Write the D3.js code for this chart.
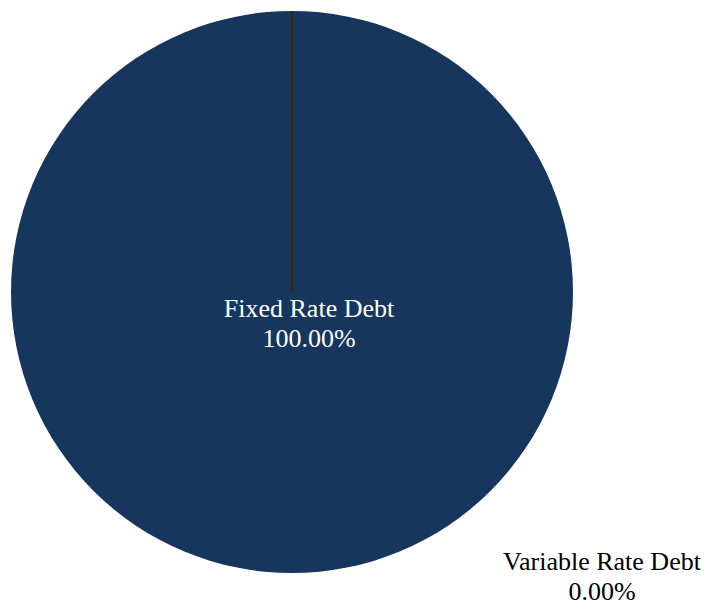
<!DOCTYPE html>
<html>
<head>
<meta charset="utf-8">
<script src="https://cdn.jsdelivr.net/npm/d3@7"></script>
<style>
  html, body { margin: 0; padding: 0; background: #fff; }
  svg { display: block; }
</style>
</head>
<body>
<svg id="chart" width="709" height="605"></svg>
<script>
// Debt mix by rate type
const categories = ["Fixed Rate Debt", "Variable Rate Debt"];
const values = [100, 0];
const percentLabels = ["100.00%", "0.00%"];
const colors = ["#17365d", "#2b2c1c"];

const width = 709, height = 605;
const cx = 292, cy = 292, radius = 281;

const svg = d3.select("#chart");
const g = svg.append("g").attr("transform", `translate(${cx},${cy})`);

const pie = d3.pie().sort(null).value(d => d.value);
const arcs = pie(categories.map((c, i) => ({ name: c, value: values[i], i })));
const arc = d3.arc().innerRadius(0).outerRadius(radius);

// Slices: the empty slice collapses to a radial edge, shown by its stroke
g.selectAll("path.slice")
  .data(arcs)
  .join("path")
  .attr("class", "slice")
  .attr("d", arc)
  .attr("fill", d => d.data.value > 0 ? colors[d.data.i] : "none")
  .attr("stroke", d => d.data.value > 0 ? "none" : colors[d.data.i])
  .attr("stroke-width", 3);

// Labels
const labelOffsets = [
  { dx: 17, dy: 25, fill: "#ffffff" },
  { dx: 310, dy: 278, fill: "#000000" }
];
const font = "'Liberation Serif', 'Times New Roman', serif";
const lbl = g.selectAll("text.label")
  .data(arcs)
  .join("text")
  .attr("class", "label")
  .attr("text-anchor", "middle")
  .attr("font-family", font)
  .attr("font-size", 26)
  .attr("fill", d => labelOffsets[d.data.i].fill);
lbl.append("tspan")
  .attr("x", d => labelOffsets[d.data.i].dx)
  .attr("y", d => labelOffsets[d.data.i].dy)
  .text(d => d.data.name);
lbl.append("tspan")
  .attr("x", d => labelOffsets[d.data.i].dx)
  .attr("y", d => labelOffsets[d.data.i].dy + 30)
  .text(d => percentLabels[d.data.i]);
</script>
</body>
</html>
